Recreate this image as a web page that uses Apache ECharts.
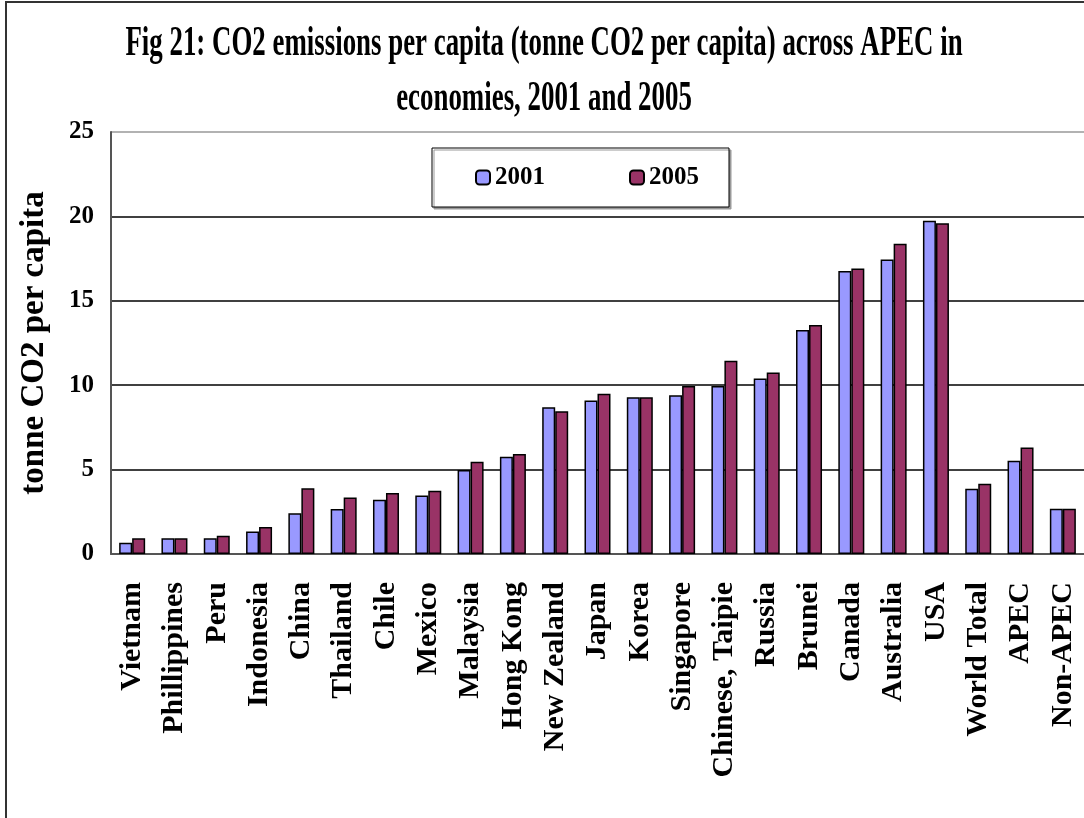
<!DOCTYPE html>
<html>
<head>
<meta charset="utf-8">
<script src="https://cdn.jsdelivr.net/npm/echarts@6/dist/echarts.min.js"></script>
<style>
html,body{margin:0;padding:0;background:#fff;}
#chart{width:1084px;height:818px;}
</style>
</head>
<body>
<div id="chart"></div>
<script>
var categories = ['Vietnam','Phillippines','Peru','Indonesia','China','Thailand','Chile','Mexico','Malaysia','Hong Kong','New Zealand','Japan','Korea','Singapore','Chinese, Taipie','Russia','Brunei','Canada','Australia','USA','World Total','APEC','Non-APEC'];
var values2001 = [0.67,0.93,0.93,1.34,2.41,2.67,3.22,3.47,4.97,5.76,8.70,9.10,9.28,9.40,9.95,10.40,13.27,16.76,17.45,19.74,3.86,5.52,2.68];
var values2005 = [0.93,0.93,1.08,1.60,3.89,3.34,3.61,3.75,5.47,5.92,8.45,9.50,9.28,9.96,11.45,10.75,13.57,16.92,18.38,19.60,4.16,6.31,2.68];
var seriesNames = ['2001','2005'];
var titleLines = ['Fig 21: CO2 emissions per capita (tonne CO2 per capita) across APEC in','economies, 2001 and 2005'];
var yAxisName = 'tonne CO2 per capita';

var serif = '"Liberation Serif","Times New Roman",serif';
var chart = echarts.init(document.getElementById('chart'), null, {renderer:'canvas'});
chart.setOption({
  animation:false,
  backgroundColor:'#fff',
  graphic:[
    {type:'rect', shape:{x:6,y:2,width:1200,height:1000}, style:{fill:'none',stroke:'#333',lineWidth:2}, silent:true, z:-1},
    {type:'text', x:544, y:44, scaleX:0.64, scaleY:1,
     style:{text:titleLines[0], font:'bold 42px '+serif, fill:'#000', align:'center', verticalAlign:'middle'}},
    {type:'text', x:544, y:99, scaleX:0.64, scaleY:1,
     style:{text:titleLines[1], font:'bold 42px '+serif, fill:'#000', align:'center', verticalAlign:'middle'}}
  ],
  legend:{
    data:seriesNames, left:432, top:148, orient:'horizontal',
    itemWidth:14, itemHeight:14, itemGap:84,
    padding:[17,30,17,43],
    borderColor:'#000', borderWidth:1,
    shadowColor:'#999', shadowOffsetX:2, shadowOffsetY:2, shadowBlur:0,
    backgroundColor:'#fff',
    textStyle:{fontFamily:serif, fontWeight:'bold', fontSize:25, color:'#000'}
  },
  grid:{left:111, right:0, top:132, bottom:264, containLabel:false},
  xAxis:{
    type:'category', data:categories,
    axisLine:{lineStyle:{color:'#555', width:2}},
    axisTick:{show:false},
    axisLabel:{interval:0, rotate:90, margin:28, fontFamily:serif, fontWeight:'bold', fontSize:30, color:'#000'}
  },
  yAxis:{
    type:'value', min:0, max:25, interval:5,
    name:yAxisName, nameLocation:'middle', nameRotate:90, nameGap:60,
    nameTextStyle:{fontFamily:serif, fontWeight:'bold', fontSize:33, color:'#000'},
    axisLine:{show:true, lineStyle:{color:'#555', width:2}},
    axisTick:{show:false},
    axisLabel:{margin:17, fontFamily:serif, fontWeight:'bold', fontSize:25, color:'#000'},
    splitLine:{show:true, lineStyle:{color:['#555','#000','#000','#000','#000','#999'], width:1.5}}
  },
  series:[
    {name:seriesNames[0], type:'bar', data:values2001, barWidth:13, barGap:'0%',
     itemStyle:{color:'#9999FF', borderColor:'#000', borderWidth:1.5}},
    {name:seriesNames[1], type:'bar', data:values2005, barWidth:13, barGap:'0%',
     itemStyle:{color:'#993366', borderColor:'#000', borderWidth:1.5}}
  ]
});
</script>
</body>
</html>
